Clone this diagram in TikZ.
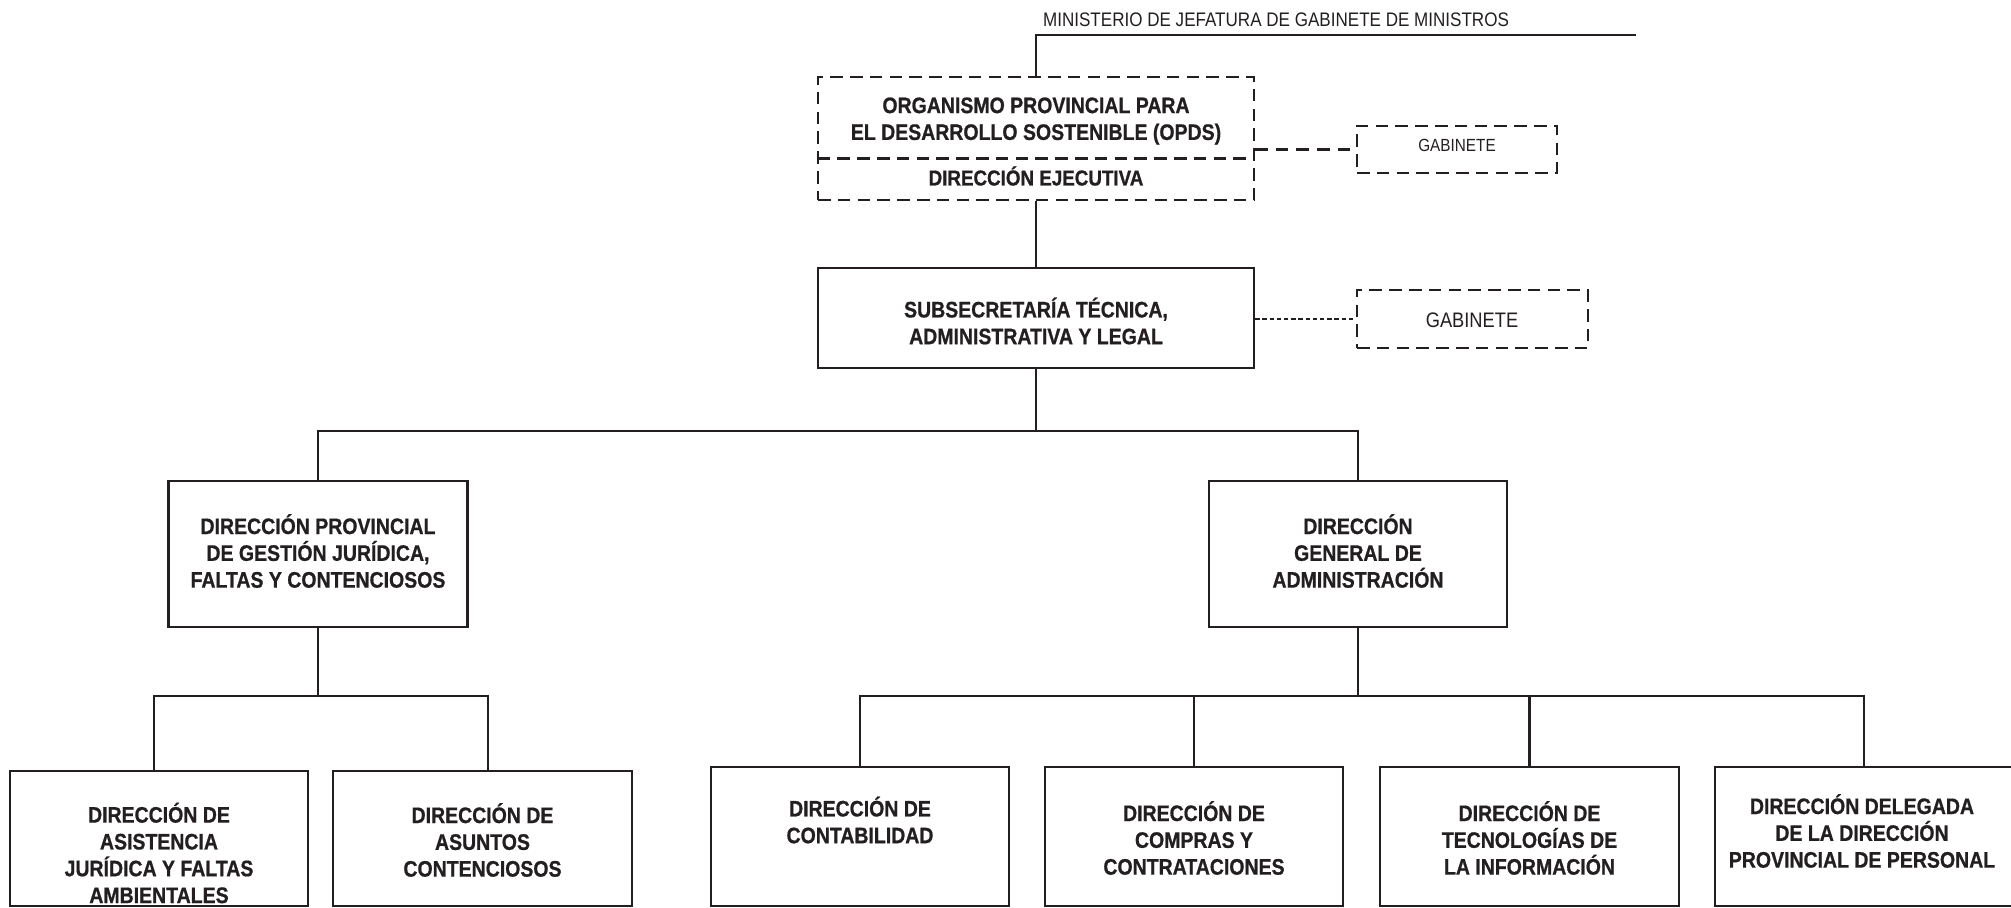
\documentclass[tikz,border=0pt]{standalone}
\usepackage{fontspec}
\setmainfont{Liberation Sans}[FakeStretch=0.87, BoldFeatures={FakeBold=0.8}]
\definecolor{ink}{HTML}{231F20}
\def\u{0.5pt}
\begin{document}
\begin{tikzpicture}[x=0.5pt,y=-0.5pt,
  box/.style={draw=ink, line width=1.2pt, inner sep=0pt},
  dbox/.style={draw=ink, line width=1.15pt, dash pattern=on 6.3pt off 3.6pt, inner sep=0pt},
  conn/.style={draw=ink, line width=1.05pt},
  ddash/.style={draw=ink, line width=1.1pt, dash pattern=on 6.3pt off 4pt},
  fdash/.style={draw=ink, line width=0.7pt, dash pattern=on 2.2pt off 1.4pt},
  t/.style={font=\bfseries\fontsize{11.2}{13.4}\selectfont, align=center, text=ink, inner sep=0pt},
  tr/.style={align=center, text=ink, inner sep=0pt}]
\useasboundingbox (0,0) rectangle (2011,908);

% top
\node[tr, font=\fontsize{9.8}{11}\selectfont] (min) at (1276,20) {MINISTERIO DE JEFATURA DE GABINETE DE MINISTROS};
\coordinate (mr) at (1636,35);

\node[dbox, minimum width=436*\u, minimum height=123*\u] (opds) at (1036,138.5) {};
\node[t] (opdst) at (1036,121) {ORGANISMO PROVINCIAL PARA\\EL DESARROLLO SOSTENIBLE (OPDS)};
\node[inner sep=0pt, minimum width=436*\u, minimum height=41*\u] (dirEj) at (1036,179.5) {};
\node[t, font=\bfseries\fontsize{10.8}{12}\selectfont] (dirEjt) at (1036,176) {DIRECCIÓN EJECUTIVA};
\draw[draw=ink, line width=1.15pt, dash pattern=on 6.3pt off 3.6pt] (dirEj.north west) -- (dirEj.north east);

\node[dbox, minimum width=200*\u, minimum height=47*\u] (gab1) at (1457,149.5) {};
\node[tr, font=\fontsize{8.8}{10}\selectfont] (gab1t) at (1457,145) {GABINETE};

\node[box, minimum width=436*\u, minimum height=100*\u] (sub) at (1036,318) {};
\node[t] (subt) at (1036,321) {SUBSECRETARÍA TÉCNICA,\\ADMINISTRATIVA Y LEGAL};

\node[dbox, minimum width=231*\u, minimum height=58*\u] (gab2) at (1472.5,319) {};
\node[tr, font=\fontsize{10.5}{12}\selectfont] (gab2t) at (1472,320) {GABINETE};

% level 2
\node[box, minimum width=299*\u, minimum height=146*\u] (dpgj) at (318,554) {};
\node[t] (dpgjt) at (318,551) {DIRECCIÓN PROVINCIAL\\DE GESTIÓN JURÍDICA,\\FALTAS Y CONTENCIOSOS};
\node[box, minimum width=298*\u, minimum height=146*\u] (dga) at (1358,554) {};
\node[t] (dgat) at (1358,551) {DIRECCIÓN\\GENERAL DE\\ADMINISTRACIÓN};

% level 3 left
\node[box, minimum width=298*\u, minimum height=135*\u] (b1) at (159,838.5) {};
\node[t] (b1t) at (159,853) {DIRECCIÓN DE\\ASISTENCIA\\JURÍDICA Y FALTAS\\AMBIENTALES};
\node[box, minimum width=299*\u, minimum height=135*\u] (b2) at (482.5,838.5) {};
\node[t] (b2t) at (482.5,840) {DIRECCIÓN DE\\ASUNTOS\\CONTENCIOSOS};

% level 3 right
\node[box, minimum width=298*\u, minimum height=139*\u] (c1) at (860,836.5) {};
\node[t] (c1t) at (860,820) {DIRECCIÓN DE\\CONTABILIDAD};
\node[box, minimum width=298*\u, minimum height=139*\u] (c2) at (1194,836.5) {};
\node[t] (c2t) at (1194,838) {DIRECCIÓN DE\\COMPRAS Y\\CONTRATACIONES};
\node[box, minimum width=299*\u, minimum height=139*\u] (c3) at (1529.5,836.5) {};
\node[t] (c3t) at (1529.5,838) {DIRECCIÓN DE\\TECNOLOGÍAS DE\\LA INFORMACIÓN};
\node[box, minimum width=298*\u, minimum height=139*\u] (c4) at (1864,836.5) {};
\node[t] (c4t) at (1862,831) {DIRECCIÓN DELEGADA\\DE LA DIRECCIÓN\\PROVINCIAL DE PERSONAL};

% connectors
\draw[conn] (opds.north) -- (opds.north |- mr) -- (mr);
\draw[ddash] (gab1.west -| opds.east) -- (gab1.west);
\draw[conn] (opds.south) -- (sub.north);
\draw[fdash] (gab2.west -| sub.east) -- (gab2.west);

\coordinate (bar1) at (1036,431);
\draw[conn] (sub.south) -- (bar1);
\draw[conn] (dpgj.north) |- (bar1) -| (dga.north);

\coordinate (bar2) at (318,696);
\coordinate (b1top) at (154,771);
\coordinate (b2top) at (488,771);
\draw[conn] (dpgj.south) -- (bar2);
\draw[conn] (b1top) |- (bar2) -| (b2top);

\coordinate (bar3) at (1358,696);
\draw[conn] (dga.south) -- (bar3);
\draw[conn] (c1.north) |- (bar3) -| (c4.north);
\draw[conn] (c2.north) -- (c2.north |- bar3);
\draw[conn] (c3.north) -- (c3.north |- bar3);
\end{tikzpicture}
\end{document}
